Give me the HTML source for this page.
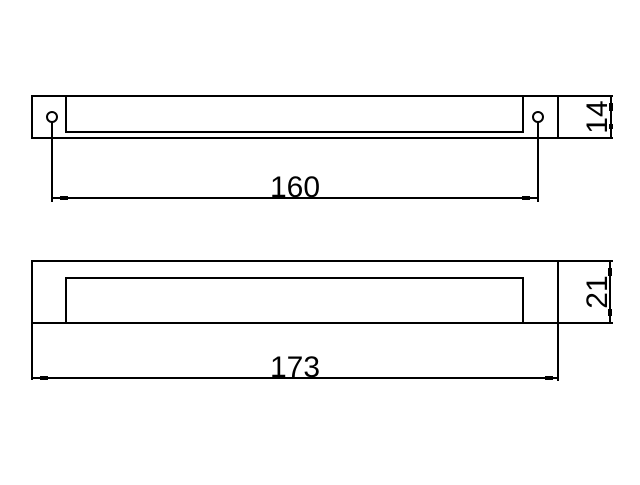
<!DOCTYPE html>
<html><head><style>html,body{margin:0;padding:0;background:#fff}</style></head>
<body>
<svg width="640" height="480" viewBox="0 0 640 480" xmlns="http://www.w3.org/2000/svg">
<g stroke="#000" stroke-width="2" fill="none">
<polyline points="613,96 32,96 32,138 613,138"/>
<line x1="558" y1="96" x2="558" y2="138"/>
<polyline points="66,96 66,132 523,132 523,96"/>
<circle cx="52" cy="117" r="5"/>
<circle cx="538" cy="117" r="5"/>
<line x1="52" y1="122" x2="52" y2="202"/>
<line x1="538" y1="122" x2="538" y2="202"/>
<line x1="52" y1="198" x2="538" y2="198"/>
<line x1="611" y1="96" x2="611" y2="138"/>
<polyline points="613,261 32,261 32,380"/>
<line x1="32" y1="323" x2="613" y2="323"/>
<line x1="558" y1="261" x2="558" y2="381"/>
<polyline points="66,323 66,278 523,278 523,323"/>
<line x1="32" y1="378" x2="558" y2="378"/>
<line x1="610" y1="261" x2="610" y2="323"/>
</g>
<g fill="#000">
<rect x="60" y="196" width="8" height="4"/>
<rect x="522" y="196" width="8" height="4"/>
<rect x="40" y="376" width="8" height="4"/>
<rect x="545" y="376" width="8" height="4"/>
<rect x="609" y="103" width="4" height="8"/>
<rect x="609" y="124" width="4" height="5"/>
<rect x="608" y="268" width="4" height="8"/>
<rect x="608" y="309" width="4" height="7"/>
</g>
<g font-family="Liberation Sans, sans-serif" font-size="30" fill="#000">
<text x="295" y="197" text-anchor="middle">160</text>
<text x="295" y="377" text-anchor="middle">173</text>
<text transform="translate(607,117) rotate(-90)" text-anchor="middle">14</text>
<text transform="translate(607,292) rotate(-90)" text-anchor="middle">21</text>
</g>
</svg>
</body></html>
